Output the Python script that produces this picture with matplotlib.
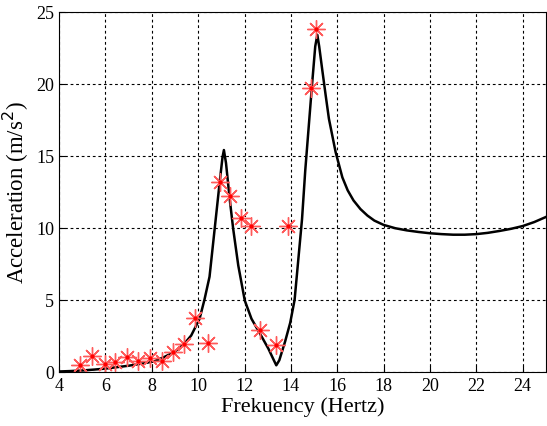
import matplotlib
matplotlib.use('Agg')
import matplotlib.pyplot as plt

# measured points (red asterisks)
meas_f = [4.91, 5.42, 6.0, 6.43, 6.91, 7.4, 7.91, 8.42, 8.9, 9.4, 9.87, 10.42,
          10.93, 11.36, 11.83, 12.27, 12.67, 13.36, 13.86, 14.88, 15.09]
meas_a = [0.49, 1.13, 0.53, 0.67, 1.02, 0.74, 0.97, 0.72, 1.37, 1.94, 3.72, 2.02,
          13.17, 12.24, 10.67, 10.12, 2.87, 1.83, 10.12, 19.7, 23.82]

# model curve (black line)
curve_f = [4.0, 4.5, 5.0, 5.5, 6.0, 6.5, 7.0, 7.5, 8.1, 8.53, 8.97, 9.4, 9.7,
           10.06, 10.27, 10.49, 10.71, 10.93, 11.05, 11.11, 11.2, 11.36, 11.51,
           11.73, 12.01, 12.3, 12.67, 13.03, 13.25, 13.37, 13.5, 13.75, 13.97,
           14.16, 14.48, 14.62, 14.91, 15.05, 15.14, 15.22, 15.35, 15.5, 15.64,
           15.93, 16.22, 16.45, 16.7, 17.0, 17.3, 17.6, 18.0, 18.5, 19.0, 19.5,
           20.0, 20.5, 21.0, 21.5, 22.0, 22.5, 23.0, 23.5, 24.0, 24.5, 25.0]
curve_a = [0.02, 0.05, 0.09, 0.15, 0.22, 0.32, 0.42, 0.55, 0.72, 1.02, 1.37, 1.94,
           2.52, 3.68, 5.0, 6.6, 9.9, 13.2, 14.9, 15.4, 14.5, 12.0, 9.93, 7.38,
           4.95, 3.68, 2.64, 1.6, 0.85, 0.45, 0.8, 2.1, 3.4, 5.0, 10.6, 14.0, 19.9,
           22.6, 23.4, 22.6, 21.0, 19.2, 17.57, 15.25, 13.5, 12.6, 11.9, 11.3,
           10.85, 10.5, 10.2, 9.97, 9.82, 9.71, 9.62, 9.56, 9.52, 9.52, 9.56,
           9.65, 9.78, 9.93, 10.12, 10.4, 10.75]

plt.rcParams['font.family'] = ['Liberation Serif', 'DejaVu Serif']

fig = plt.figure(figsize=(5.47, 4.27), dpi=100)
ax = fig.add_axes([0.108, 0.127, 0.89, 0.843])

ax.plot(curve_f, curve_a, color='black', linewidth=1.8)
ax.plot(meas_f, meas_a, linestyle='none', marker=(8, 2, 0), markersize=13,
        markeredgecolor='#ff5a5a', markeredgewidth=1.0)
ax.plot(meas_f, meas_a, linestyle='none', marker='.', markersize=4, color='red')

ax.set_xlim(4, 25)
ax.set_ylim(0, 25)
ax.set_xticks(range(4, 25, 2))
ax.set_yticks(range(0, 26, 5))
ax.grid(True, color='black', linestyle=(0, (2.5, 2.5)), linewidth=0.8)
ax.tick_params(direction='in', labelsize=13, length=4)
ax.set_xlabel('Frekuency (Hertz)', fontsize=16, labelpad=2)
ax.set_ylabel('Acceleration (m/s$^2$)', fontsize=16.5, labelpad=4)

fig.savefig('out.png', dpi=100)
